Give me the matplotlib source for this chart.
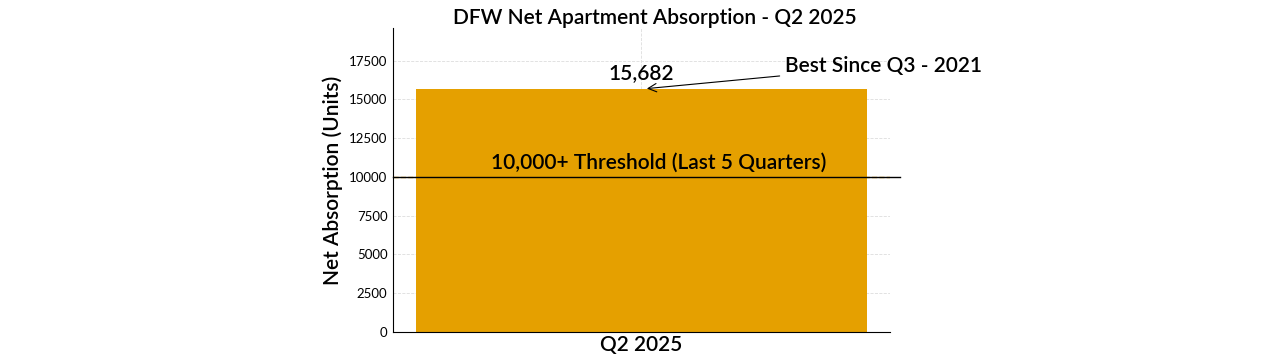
import matplotlib
matplotlib.use("Agg")
from matplotlib import pyplot as plt

quarters = ["Q2 2025"]
absorption = [15682]
threshold = 10000
title = "DFW Net Apartment Absorption - Q2 2025"
best_note = "Best Since Q3 - 2021"
threshold_note = "10,000+ Threshold (Last 5 Quarters)"

plt.rcParams['font.family'] = ['Lato', 'DejaVu Sans']
big = dict(fontsize=15, fontweight="semibold")

fig = plt.figure(figsize=(12.8, 3.6), dpi=100)
ax = fig.add_axes([0.307, 0.078, 0.388, 0.844])

ax.bar(quarters, absorption, width=0.8, color="#e5a000", zorder=2)
ax.set_ylim(0, absorption[0] * 1.25)
ax.set_yticks(range(0, 17501, 2500))

ax.axhline(threshold, color="#e5a000", linestyle="--", linewidth=1, zorder=1)
ax.axhline(threshold, xmin=0, xmax=1.02, color="black", linewidth=1, zorder=3, clip_on=False)
ax.text(0.03, threshold + 300, threshold_note, ha="center", va="bottom", zorder=4, **big)

ax.text(0, absorption[0] + 400, f"{absorption[0]:,}", ha="center", va="bottom", zorder=4, **big)
ax.annotate(best_note, xy=(0.005, absorption[0]), xytext=(0.255, 17150),
            ha="left", va="center",
            arrowprops=dict(arrowstyle="->", color="black", lw=0.8),
            annotation_clip=False, **big)

ax.set_title(title, pad=2, x=0.527, **big)
ax.set_ylabel("Net Absorption (Units)", **big)
ax.tick_params(axis="y", labelsize=9.5, length=0, pad=4)
ax.tick_params(axis="x", labelsize=15, length=0, pad=2)
for lbl in ax.get_xticklabels():
    lbl.set_fontweight("semibold")
ax.grid(True, linestyle="--", color="#dddddd", linewidth=0.6, zorder=0)
ax.set_axisbelow(True)
for side in ["top", "right"]:
    ax.spines[side].set_visible(False)

fig.savefig("out.png", dpi=100)
